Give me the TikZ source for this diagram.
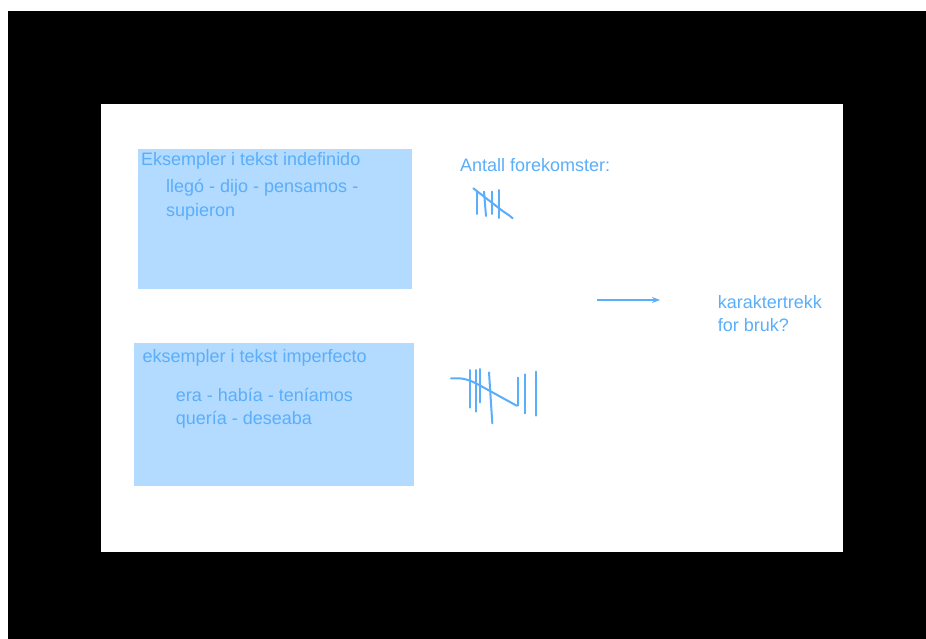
\documentclass[tikz,border=0pt]{standalone}
\usepackage{fontspec}
\setmainfont{Liberation Sans}
\usetikzlibrary{arrows.meta}
\definecolor{boxfill}{HTML}{B3DAFF}
\definecolor{ink}{HTML}{5AAEFA}
\begin{document}
\begin{tikzpicture}[x=1pt,y=-1pt,
  txt/.style={anchor=base west,inner sep=0pt,text=ink,font=\fontsize{18}{22}\selectfont},
  panel/.style={fill=boxfill,draw=none},
  tally/.style={draw=ink,line width=2pt,line cap=round,line join=round}]
\useasboundingbox (0,0) rectangle (926,639);
\fill[white] (0,0) rectangle (926,639);
\fill[black] (7.5,11.5) rectangle (926,639);
\fill[white] (101,104.3) rectangle (843.3,551.7);
% boxes
\path[panel] (138,148.7) rectangle (412,288.7);
\path[panel] (134.3,343) rectangle (414.3,485.7);
% texts
\node[txt] (t1) at (141,166) {Eksempler i tekst indefinido};
\node[txt] (t2) at (166,193) {llegó - dijo - pensamos -};
\node[txt] (t3) at (166,216) {supieron};
\node[txt] (t4) at (142.3,362) {eksempler i tekst imperfecto};
\node[txt] (t5) at (175.7,401.5) {era - había - teníamos};
\node[txt] (t6) at (175.7,424.5) {quería - deseaba};
\node[txt] (t7) at (460,172) {Antall forekomster:};
\node[txt] (t8) at (717.7,308.3) {karaktertrekk};
\node[txt] (t9) at (717.7,331.7) {for bruk?};
% arrow
\coordinate (a1) at (596.7,300);
\coordinate (a2) at (660,300);
\draw[ink,line width=1.5pt,-{Stealth[length=8pt,width=6pt]}] (a1) -- (a2);
% tally 1
\draw[tally] (473.3,188.3) -- (500,209) .. controls (505,213) and (508,214) .. (512.7,218.3);
\draw[tally] (476.7,191.7) -- (476.7,214);
\draw[tally] (484,191.7) -- (486,216);
\draw[tally] (491.7,191.7) -- (491.7,214);
\draw[tally] (499.3,190) -- (499.3,218);
% tally 2
\draw[tally] (451,378.3) -- (460,378.3) .. controls (470,380) .. (490,391) -- (516.7,405.7);
\draw[tally] (469.5,370) -- (469.5,407.7);
\draw[tally] (475.7,370) -- (475.7,411.7);
\draw[tally] (480.3,369) -- (480.3,402.3);
\draw[tally] (489,372.3) -- (492.3,423.3);
\draw[tally] (517.5,377.7) -- (517.5,405.7);
\draw[tally] (525,374.3) -- (525,413.3);
\draw[tally] (535.7,371.7) -- (535.7,415.7);
\end{tikzpicture}
\end{document}
